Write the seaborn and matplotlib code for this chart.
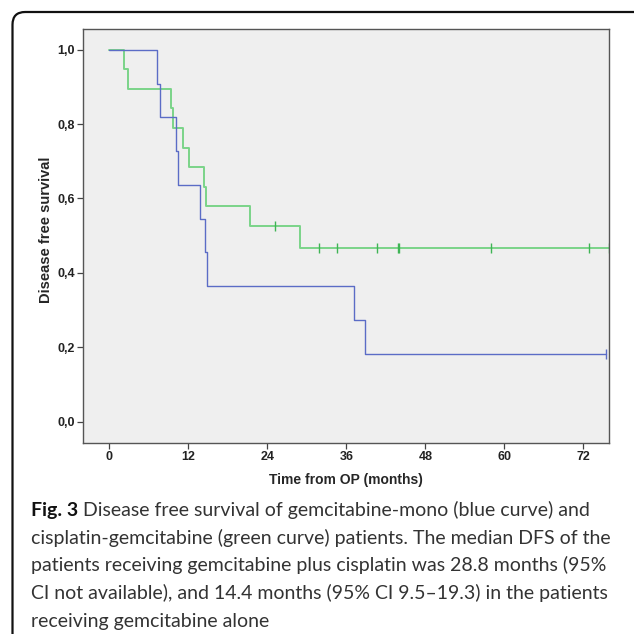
import numpy as np
import pandas as pd
import seaborn as sns
import matplotlib.pyplot as plt
from matplotlib.patches import FancyBboxPatch

# Data (months, survival)
blue_time = [0, 7.25, 7.7, 10.2, 10.4, 13.8, 14.5, 14.9, 37.1, 38.8, 75.5]
blue_surv = [1.0, 0.909, 0.818, 0.727, 0.636, 0.545, 0.455, 0.364, 0.273, 0.182, 0.182]
blue_cens_time = [75.5]
blue_cens_surv = [0.182]

green_time = [0, 2.28, 2.84, 9.37, 9.6, 11.2, 12.06, 14.4, 14.7, 21.3, 28.9, 75.9]
green_surv = [1.0, 0.947, 0.895, 0.842, 0.789, 0.737, 0.684, 0.632, 0.579, 0.526, 0.468, 0.468]
green_cens_time = [25.1, 31.8, 34.6, 40.6, 43.8, 44.0, 58.0, 72.8, 75.9]
green_cens_surv = [0.526, 0.468, 0.468, 0.468, 0.468, 0.468, 0.468, 0.468, 0.468]

x_ticks = [0, 12, 24, 36, 48, 60, 72]
y_ticks = [0.0, 0.2, 0.4, 0.6, 0.8, 1.0]
y_tick_labels = ['0,0', '0,2', '0,4', '0,6', '0,8', '1,0']

caption_lines = [
    'Disease free survival of gemcitabine-mono (blue curve) and',
    'cisplatin-gemcitabine (green curve) patients. The median DFS of the',
    'patients receiving gemcitabine plus cisplatin was 28.8 months (95%',
    'CI not available), and 14.4 months (95% CI 9.5\u201319.3) in the patients',
    'receiving gemcitabine alone',
]

blue = '#5b6cc6'
green = '#7ad489'
green_dark = '#3fb455'

df = pd.concat([
    pd.DataFrame({'time': blue_time, 'surv': blue_surv, 'group': 'mono'}),
    pd.DataFrame({'time': green_time, 'surv': green_surv, 'group': 'combo'}),
])

sns.set_style('ticks')
plt.rcParams['font.family'] = ['Liberation Sans Narrow', 'Liberation Sans', 'DejaVu Sans']

fig = plt.figure(figsize=(6.34, 6.34), dpi=100)
ax = fig.add_axes([0.1314, 0.3017, 0.8297, 0.6526])
ax.set_facecolor('#efefef')

sns.lineplot(data=df, x='time', y='surv', hue='group', palette={'mono': blue, 'combo': green},
             hue_order=['combo', 'mono'], drawstyle='steps-post', estimator=None,
             linewidth=1.4, legend=False, ax=ax)
ax.lines[1].set_linewidth(1.0)

ax.plot(green_cens_time, green_cens_surv, linestyle='none', marker='|', markersize=7,
        markeredgewidth=1.0, color=green_dark)
ax.plot(blue_cens_time, blue_cens_surv, linestyle='none', marker='|', markersize=7,
        markeredgewidth=1.0, color=blue)

ax.set_xlim(-3.95, 75.95)
ax.set_ylim(-0.0565, 1.0556)
ax.set_xticks(x_ticks)
ax.set_yticks(y_ticks)
ax.set_yticklabels(y_tick_labels)
ax.tick_params(axis='both', length=4.5, width=0.9, color='#444444', labelsize=9, pad=1.5)
for lab in ax.get_xticklabels() + ax.get_yticklabels():
    lab.set_fontweight('bold')
    lab.set_color('#222222')
for s in ax.spines.values():
    s.set_color('#555555')
    s.set_linewidth(1.0)

ax.set_xlabel('Time from OP (months)', fontsize=10, fontweight='bold', family=['Liberation Sans', 'DejaVu Sans'])
ax.set_ylabel('Disease free survival', fontsize=10.5, fontweight='bold', family=['Liberation Sans', 'DejaVu Sans'])
ax.xaxis.set_label_coords(0.5, -0.073)
ax.yaxis.set_label_coords(-0.058, 0.515)

# rounded frame around the figure panel
frame = FancyBboxPatch((12.5 / 634, -0.05), 1.2, 1 - 12 / 634 + 0.05,
                       boxstyle='round,pad=0,rounding_size=0.02', transform=fig.transFigure,
                       facecolor='none', edgecolor='#111111', linewidth=1.6, clip_on=False)
fig.patches.append(frame)

# caption
cap_font = ['Lato', 'DejaVu Sans']
x0 = 31 / 634
baselines = [516, 543.7, 571.4, 599.1, 626.8]
renderer = fig.canvas.get_renderer()
fs = 14.5
t = fig.text(x0, 1 - baselines[1] / 634, caption_lines[1], fontsize=fs, family=cap_font, va='baseline')
w = t.get_window_extent(renderer).width
fs = fs * 577 / w
t.set_fontsize(fs)
bold = fig.text(x0, 1 - baselines[0] / 634, 'Fig. 3', fontsize=fs, family=cap_font,
                fontweight='bold', va='baseline', color='#111111')
bw = bold.get_window_extent(renderer).width
fig.text(x0 + (bw + 5) / 634, 1 - baselines[0] / 634, caption_lines[0], fontsize=fs,
         family=cap_font, va='baseline', color='#333333')
t.set_color('#333333')
for line, b in zip(caption_lines[2:], baselines[2:]):
    fig.text(x0, 1 - b / 634, line, fontsize=fs, family=cap_font, va='baseline', color='#333333')

fig.savefig('out.png', dpi=100)
